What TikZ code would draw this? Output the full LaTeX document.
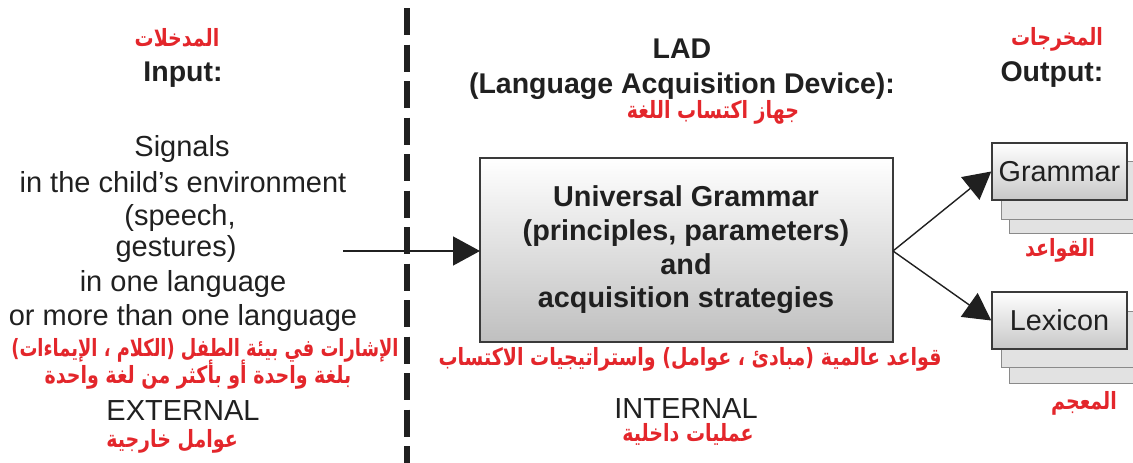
\documentclass[tikz,border=0pt]{standalone}
\usepackage{fontspec}
\usepackage{graphicx}
\setmainfont{Liberation Sans}
\newfontfamily\arabicfont[Script=Arabic]{DejaVu Sans}
\TeXXeTstate=1
\usetikzlibrary{arrows.meta,shadings}
\definecolor{ink}{HTML}{202020}
\definecolor{ared}{HTML}{E3262B}
\definecolor{edge}{HTML}{3A3A3A}
\definecolor{backfill}{HTML}{E2E2E2}
\definecolor{backedge}{HTML}{8A8A8A}
\newcommand{\artext}[2][1]{\scalebox{#1}[1.25]{\beginR #2\endR}}
\tikzset{
  en/.style={inner sep=0pt, anchor=base, text=ink, font=\fontsize{29}{34}\selectfont},
  enb/.style={en, font=\bfseries\fontsize{28.5}{33}\selectfont},
  ugb/.style={en, font=\bfseries\fontsize{28.8}{33}\selectfont},
  ar/.style={inner sep=0pt, anchor=base, text=ared, font=\arabicfont\bfseries\fontsize{19}{23}\selectfont},
  mainbox/.style={draw=edge, line width=1.8pt, top color=white, bottom color=black!25},
  outbox/.style={draw=edge, line width=1.5pt, top color=white, bottom color=black!22, minimum width=135pt, minimum height=57pt, inner sep=0pt, text=ink, font=\fontsize{28.8}{33}\selectfont},
  backbox/.style={draw=backedge, line width=1pt, fill=backfill},
  conn/.style={draw=ink, line width=1.4pt, -{Triangle[length=27pt,width=29pt]}},
  sep/.style={draw=ink, line width=6.5pt, dash pattern=on 27pt off 9.5pt}
}
\begin{document}
\begin{tikzpicture}[x=1pt,y=-1pt]
\useasboundingbox (0,0) rectangle (1133,463);
% separator
\coordinate (sepTop) at (407,8);
\coordinate (sepBot) at (407,470);
\draw[sep] (sepTop) -- (sepBot);
% left column
\node[ar] (inAr) at (177,46) {\artext{المدخلات}};
\node[enb] (inHead) at (183,81) {Input:};
\node[en] (l1) at (182,156) {Signals};
\node[en] (l2) at (183,192) {in the child’s environment};
\node[en] (l3) at (180,225) {(speech,};
\node[en] (l4) at (176,256) {gestures)};
\node[en] (l5) at (183,291) {in one language};
\node[en] (l6) at (183,325) {or more than one language};
\node[ar] (la1) at (205,356) {\artext[0.94]{الإشارات في بيئة الطفل (الكلام ، الإيماءات)}};
\node[ar] (la2) at (198,383) {\artext{بلغة واحدة أو بأكثر من لغة واحدة}};
\node[en] (ext) at (183,420) {EXTERNAL};
\node[ar] (extAr) at (172,447) {\artext{عوامل خارجية}};
% middle column
\node[enb] (lad) at (682,58) {LAD};
\node[enb] (ladFull) at (682,93) {(Language Acquisition Device):};
\node[ar] (ladAr) at (713,118) {\artext{جهاز اكتساب اللغة}};
\path[mainbox] (480,158) rectangle (893,342);
\coordinate (ugW) at (480,251);
\coordinate (ugE) at (893,251);
\node[ugb] (ug1) at (686,206) {Universal Grammar};
\node[ugb] (ug2) at (686,240) {(principles, parameters)};
\node[ugb] (ug3) at (686,274) {and};
\node[ugb] (ug4) at (686,307) {acquisition strategies};
\node[ar] (ugAr) at (690,365) {\artext{قواعد عالمية (مبادئ ، عوامل) واستراتيجيات الاكتساب}};
\node[en] (int) at (686,418) {INTERNAL};
\node[ar] (intAr) at (688,441) {\artext{عمليات داخلية}};
% right column
\node[ar] (outAr) at (1057,45) {\artext{المخرجات}};
\node[enb] (outHead) at (1052,81) {Output:};
\path[backbox] (1009,175) rectangle (1145,233);
\path[backbox] (1001,161) rectangle (1145,219);
\node[outbox] (gram) at (1059.5,171.5) {Grammar};
\node[ar] (gramAr) at (1060,256) {\artext{القواعد}};
\path[backbox] (1009,326) rectangle (1145,383);
\path[backbox] (1001,311) rectangle (1145,367);
\node[outbox] (lex) at (1059.5,320.5) {Lexicon};
\node[ar] (lexAr) at (1084,409) {\artext{المعجم}};
% connectors
\coordinate (inStart) at (343,251);
\draw[conn] (inStart) -- (ugW);
\draw[conn] (ugE) -- (gram.west);
\draw[conn] (ugE) -- (lex.west);
\end{tikzpicture}
\end{document}
